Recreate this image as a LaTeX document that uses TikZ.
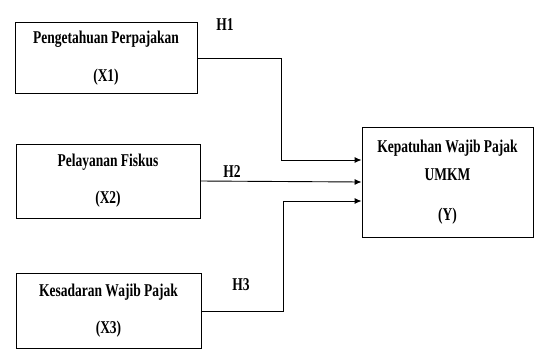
\documentclass[tikz,border=0pt]{standalone}
\usepackage{fontspec}
\setmainfont{Liberation Serif}[FakeStretch=0.75]
\usetikzlibrary{arrows.meta}

\begin{document}
\begin{tikzpicture}[x=1pt,y=-1pt,>/.tip={Latex[length=7pt,width=6pt]},
  varbox/.style={draw,line width=0.9pt,shape=rectangle,align=center,inner sep=0pt},
  hyp/.style={font=\fontsize{18}{21}\selectfont\bfseries},
  every node/.append style={font=\fontsize{18}{21}\selectfont\bfseries}]
\useasboundingbox (0,0) rectangle (535,349);
\draw (106,58)     node (x1) [varbox,minimum width=182pt,minimum height=71pt] {Pengetahuan Perpajakan\\[17pt](X1)};
\draw (108,181)    node (x2) [varbox,minimum width=184pt,minimum height=74pt] {Pelayanan Fiskus\\[16pt](X2)};
\draw (108.5,311)  node (x3) [varbox,minimum width=185pt,minimum height=75pt] {Kesadaran Wajib Pajak\\[16pt](X3)};
\draw (447.5,182)  node (y)  [varbox,minimum width=171pt,minimum height=110pt] {Kepatuhan Wajib Pajak\\[7pt]UMKM\\[19pt](Y)};

\draw[->,line width=0.9pt] (x1.east) -- ++(84,0) |- ([yshift=22pt]y.west);
\draw[->,line width=0.9pt] (x2.east) -- (y.west);
\draw[->,line width=0.9pt] (x3.east) -- ++(82,0) |- ([yshift=-19pt]y.west);

\node (h1) [hyp] at (225,25)  {H1};
\node (h2) [hyp] at (232,172) {H2};
\node (h3) [hyp] at (241,285) {H3};
\end{tikzpicture}
\end{document}
